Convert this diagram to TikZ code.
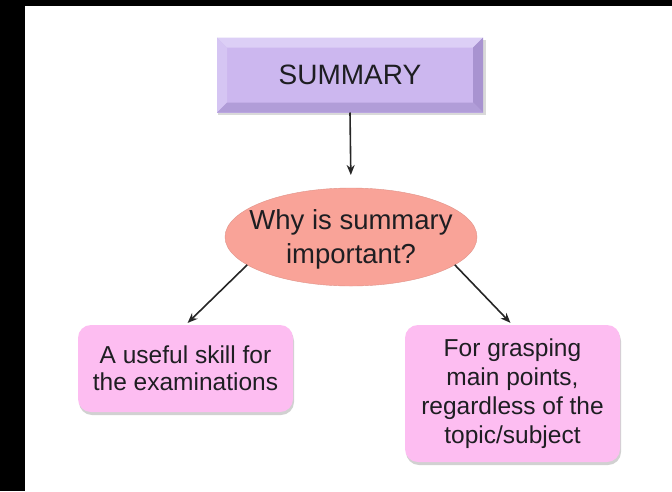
\documentclass[tikz,border=0pt]{standalone}
\usepackage{fontspec}
\setmainfont{Liberation Sans}
\usetikzlibrary{arrows.meta,calc,shapes.geometric}
\definecolor{lavmain}{HTML}{CCB7EF}
\definecolor{lavtop}{HTML}{DCCFF6}
\definecolor{lavleft}{HTML}{D5C5F3}
\definecolor{lavright}{HTML}{A893D0}
\definecolor{lavbot}{HTML}{B19DD8}
\definecolor{salmon}{HTML}{F9A398}
\definecolor{pinkbox}{HTML}{FDBDF1}
\definecolor{txt}{HTML}{1E1E22}
\tikzset{
  conn/.style={line width=1.6pt, draw=black!85, -{Stealth[length=10pt,width=8pt]}},
  pinkstyle/.style={rectangle, rounded corners=13pt, fill=pinkbox, inner sep=0pt, outer sep=0pt, align=center, text=txt},
  shadowstyle/.style={fill=black, opacity=0.18, rounded corners=13pt},
}
\begin{document}
\begin{tikzpicture}[x=1pt,y=-1pt]
% frame
\fill[black] (0,0) rectangle (672,491);
\fill[white] (25,6) rectangle (672,491);
\useasboundingbox (0,0) rectangle (672,491);

% SUMMARY bevel box
\fill[black, opacity=0.15] (218,40) rectangle (486,115);
\node[rectangle, minimum width=266pt, minimum height=75pt, inner sep=0pt, outer sep=0pt, fill=lavmain] (summ) at (350,75) {};
\fill[lavtop] (summ.north west) -- (summ.north east) -- ($(summ.north east)+(-10,10)$) -- ($(summ.north west)+(10,10)$) -- cycle;
\fill[lavleft] (summ.north west) -- ($(summ.north west)+(10,10)$) -- ($(summ.south west)+(10,-10)$) -- (summ.south west) -- cycle;
\fill[lavright] (summ.north east) -- ($(summ.north east)+(-10,10)$) -- ($(summ.south east)+(-10,-10)$) -- (summ.south east) -- cycle;
\fill[lavbot] (summ.south west) -- ($(summ.south west)+(10,-10)$) -- ($(summ.south east)+(-10,-10)$) -- (summ.south east) -- cycle;
\node[text=txt, font=\fontsize{28}{33}\selectfont] (summtext) at (summ.center) {SUMMARY};

% ellipse
\node[ellipse, minimum width=252pt, minimum height=98pt, inner sep=0pt, outer sep=0pt, fill=salmon, draw=salmon!90!black, line width=0.4pt] (ell) at (351,237) {};
\node[align=center, text=txt, font=\fontsize{27.5}{34}\selectfont] (elltext) at (351,239) {Why is summary\\important?};

% pink boxes with shadows
\fill[shadowstyle] (79,328) rectangle (294,415);
\node[pinkstyle, minimum width=215pt, minimum height=87pt, font=\fontsize{24.5}{27}\selectfont] (lbox) at (185.5,368.5) {A useful skill for\\the examinations};
\fill[shadowstyle] (406,328) rectangle (621,465);
\node[pinkstyle, minimum width=215pt, minimum height=137pt, font=\fontsize{24.5}{29}\selectfont] (rbox) at (512.5,393.5) {For grasping\\main points,\\regardless of the\\topic/subject};

% connectors
\draw[conn, shorten >=13pt] (summ.south) -- (ell.north);
\draw[conn, shorten >=3pt] (ell.195) -- (lbox.north);
\draw[conn, shorten >=3pt] (ell.-15) -- (rbox.north);
\end{tikzpicture}
\end{document}
